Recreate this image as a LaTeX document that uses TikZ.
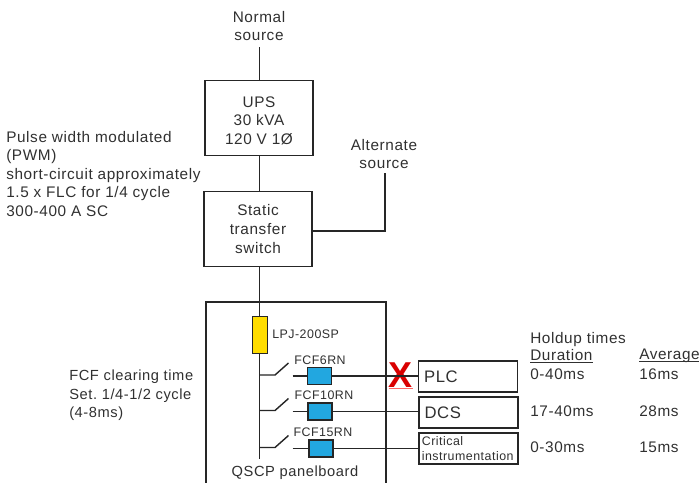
\documentclass[tikz,border=0pt]{standalone}
\usepackage{fontspec}
\setmainfont[LetterSpace=4]{Liberation Sans}
\definecolor{fuseyellow}{HTML}{FFDD00}
\definecolor{fuseblue}{HTML}{22A7E0}
\definecolor{textgray}{HTML}{303030}
\newcommand{\headunder}[1]{\vtop{\hbox{\raisebox{0pt}[\height][0pt]{#1}}\kern1.2pt\hrule height 0.6pt}}
\frenchspacing
\begin{document}
\begin{tikzpicture}[
    x=0.75pt, y=-0.75pt,
    every node/.style={font=\fontsize{11.5}{13.9}\selectfont, text=textgray},
    small/.style={font=\fontsize{9.3}{11}\selectfont},
    wire/.style={line width=1.05pt, draw=black!85},
    block/.style={draw=black!85, line width=1.05pt, fill=white, inner sep=0pt, align=center},
    fcf/.style={draw=black!85, line width=1.05pt, fill=fuseblue, minimum width=18pt, minimum height=12.5pt, inner sep=0pt},
    label/.style={inner sep=0pt, align=left, anchor=north west}
]
\useasboundingbox (0,0) rectangle (699,482);
\path[clip] (0,0) rectangle (699,482);

\node[align=center, inner sep=0pt] (normal) at (259,26) {Normal\\source};
\node[block, minimum width=81pt, minimum height=56pt] (ups) at (259,118) {\rule{0pt}{12pt}UPS\\30 kVA\\120 V 1Ø};
\node[block, minimum width=81pt, minimum height=56pt] (sts) at (258,229) {Static\\transfer\\switch};
\node[align=center, inner sep=0pt] (alt) at (384,154) {Alternate\\source};
\coordinate (altcorner) at (385,231);
\coordinate (normaltop) at (259.5,47);
\coordinate (alttop) at (385,173);
\node[block, minimum width=135pt, minimum height=150pt] (panel) at (296,402) {};
\node[inner sep=0pt, font=\fontsize{11}{13}\selectfont] (panelname) at (295,473) {QSCP panelboard};

\coordinate (busend) at (259.5,459);
\draw[wire] (normaltop) -- (normaltop |- ups.north);
\draw[wire] (ups.south -| busend) -- (sts.north -| busend);
\draw[wire] (alttop) -- (altcorner) -- (sts.east |- altcorner);
\draw[wire] (sts.south -| busend) -- (busend);

\node[draw=black!85, line width=1.05pt, fill=fuseyellow, minimum width=11.5pt, minimum height=28pt, inner sep=0pt] (lpj) at (260,335) {};
\node[label, small] (lpjname) at (272,330) {LPJ-200SP};

% load boxes
\node[block, minimum width=74pt, minimum height=23pt, text width=66pt, align=left, font=\fontsize{12.5}{14}\selectfont] (plc) at (468,376.5) {PLC};
\node[block, minimum width=74pt, minimum height=23pt, text width=66pt, align=left, font=\fontsize{12.5}{14}\selectfont] (dcs) at (468.5,412.5) {DCS};
\node[block, minimum width=74pt, minimum height=23pt, text width=70pt, align=left, font=\fontsize{9.3}{11}\selectfont] (crit) at (468.5,448.5) {Critical\\instrumentation};

\node[inner sep=0pt, font=\fontsize{27}{27}\selectfont\bfseries, text=red!85!black] (cross) at (401,375) {X};
\draw[red!60, line width=0.8pt] (389,388.5) coordinate (crossleft) -- (413,388.5) coordinate (crossright);

% feeders
\foreach \name/\fy/\lname/\load/\bx/\lx in {a/376/FCF6RN/plc/319.5/320, b/411.5/FCF10RN/dcs/320/324, c/448.5/FCF15RN/crit/321/323}{
    \coordinate (tap\name) at (259.5,\fy-1);
    \coordinate (hinge\name) at (275,\fy-1);
    \coordinate (blade\name) at (288.5,\fy-13);
    \coordinate (contact\name) at (292.5,\fy);
    \node[fcf] (fuse\name) at (\bx,\fy) {};
    \node[inner sep=0pt, small] (name\name) at (\lx,\fy-16) {\lname};
    \draw[wire] (tap\name) -- (hinge\name) -- (blade\name);
    \draw[wire] (contact\name) -- (fuse\name);
    \draw[wire] (fuse\name) -- (fuse\name -| \load.west);
}

% left notes
\node[label] (pwm) at (6,131) {Pulse width modulated\\(PWM)\\short-circuit approximately\\1.5 x FLC for 1/4 cycle\\300-400 A SC};
\node[label, font=\fontsize{11}{13.9}\selectfont] (clearing) at (69,370) {FCF clearing time\\Set. 1/4-1/2 cycle\\(4-8ms)};

% holdup table
\node[label] (holdup) at (530,332) {Holdup times};
\node[label] (durhead) at (530,349) {\headunder{Duration}};
\node[label] (avghead) at (639,349) {\headunder{Average}};
\node[label] (dura) at (530,369) {0-40ms};
\node[label] (avga) at (639,369) {16ms};
\node[label] (durb) at (530,406) {17-40ms};
\node[label] (avgb) at (639,406) {28ms};
\node[label] (durc) at (530,442) {0-30ms};
\node[label] (avgc) at (639,442) {15ms};
\end{tikzpicture}
\end{document}
